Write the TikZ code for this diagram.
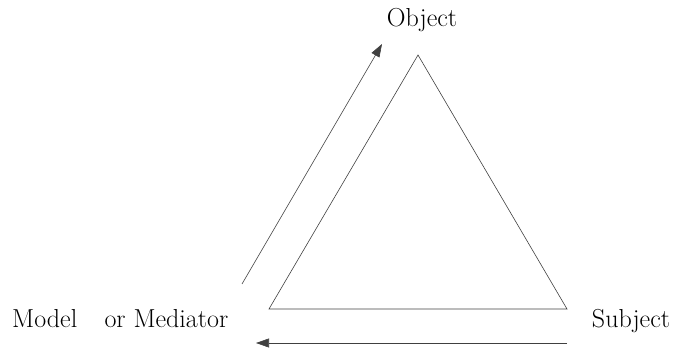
\documentclass[tikz,border=0pt]{standalone}
\usepackage{fontspec}
\usepackage{tikz}
\usetikzlibrary{arrows.meta}

\begin{document}
\begin{tikzpicture}[x=1pt,y=-1pt,>={Triangle[length=13pt,width=9pt]},
  lbl/.style={font=\fontsize{26}{30}\selectfont,inner sep=0pt}]
\useasboundingbox(0,0)rectangle(676,352);
\coordinate(top)at(418,55);
\coordinate(left)at(269,309);
\coordinate(right)at(567,309);
\draw[line width=0.6pt,black!75](top)--(left)--(right)--cycle;
\node[lbl,anchor=base](object)at(422,27){Object};
\node[lbl,anchor=base west](model)at(12,327){Model\hspace{1.05em}or Mediator};
\node[lbl,anchor=base](subject)at(631,327){Subject};
\coordinate(up0)at(242,284);
\coordinate(up1)at(382,44);
\coordinate(bot0)at(567,343);
\coordinate(bot1)at(256,343);
\draw[->,line width=0.6pt,black!75](up0)--(up1);
\draw[->,line width=0.6pt,black!75](bot0)--(bot1);
\end{tikzpicture}
\end{document}
